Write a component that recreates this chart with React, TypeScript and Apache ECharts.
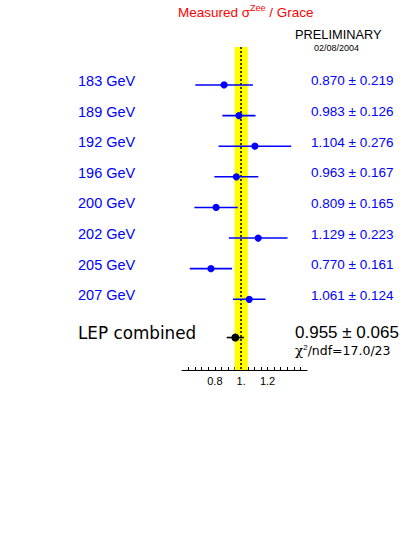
import React, { useEffect, useRef } from "react";
import * as echarts from "echarts";

const energies = ["183 GeV", "189 GeV", "192 GeV", "196 GeV", "200 GeV", "202 GeV", "205 GeV", "207 GeV"];
const ratios = [0.870, 0.983, 1.104, 0.963, 0.809, 1.129, 0.770, 1.061];
const errors = [0.219, 0.126, 0.276, 0.167, 0.165, 0.223, 0.161, 0.124];
const combinedLabel = "LEP combined";
const combinedValue = 0.955;
const combinedError = 0.065;
const chi2Value = "17.0/23";
const bandRange = [0.95, 1.05];
const refValue = 1.0;
const tickLabelValues = [0.8, 1.0, 1.2];
const tickLabelTexts = ["0.8", "1.", "1.2"];

const COMBINED_ROW = energies.length + 0.25;
const SANS = "'Liberation Sans', Arial, Helvetica, sans-serif";

export default function App() {
  const ref = useRef<HTMLDivElement>(null);

  useEffect(() => {
    if (!ref.current) return;
    const chart = echarts.init(ref.current, null, { renderer: "svg" });

    const rows = energies.map((_, i) => [ratios[i], errors[i], i]);
    rows.push([combinedValue, combinedError, COMBINED_ROW]);

    const fmt = (v: number, e: number) => `${v.toFixed(3)} ± ${e.toFixed(3)}`;

    const option: any = {
      animation: false,
      grid: { left: 182, right: 110, top: 47, bottom: 170 },
      xAxis: {
        type: "value",
        min: 0.55,
        max: 1.5,
        interval: 0.05,
        axisLine: { show: true, onZero: false, lineStyle: { color: "#000", width: 1 } },
        axisTick: { show: true, inside: true, length: 3, lineStyle: { color: "#000", width: 1 } },
        splitLine: { show: false },
        axisLabel: {
          show: true,
          margin: 5,
          fontSize: 11,
          fontFamily: SANS,
          color: "#000",
          showMinLabel: false,
          showMaxLabel: false,
          interval: 0,
          formatter: (v: number) => {
            for (let k = 0; k < tickLabelValues.length; k++) {
              if (Math.abs(v - tickLabelValues[k]) < 1e-6) return tickLabelTexts[k];
            }
            return "";
          },
        },
      },
      yAxis: {
        type: "value",
        inverse: true,
        min: -1.24,
        max: 9.31,
        show: false,
      },
      series: [
        {
          type: "line",
          data: [],
          z: 1,
          markArea: {
            silent: true,
            itemStyle: { color: "#ffff00" },
            data: [[{ xAxis: bandRange[0] }, { xAxis: bandRange[1] }]],
          },
          markLine: {
            silent: true,
            symbol: "none",
            label: { show: false },
            lineStyle: { color: "#000", width: 1.5, type: [2, 2] },
            data: [{ xAxis: refValue }],
          },
        },
        {
          type: "custom",
          z: 5,
          clip: false,
          data: rows,
          renderItem: (params: any, api: any) => {
            const idx = params.dataIndex;
            const isComb = idx === energies.length;
            const v = api.value(0);
            const e = api.value(1);
            const y = api.value(2);
            const p0 = api.coord([v - e, y]);
            const p1 = api.coord([v + e, y]);
            const c = api.coord([v, y]);
            const color = isComb ? "#000000" : "#0000ff";
            const leftText = isComb ? combinedLabel : energies[idx];
            const rightText = fmt(v, e);
            return {
              type: "group",
              children: [
                {
                  type: "line",
                  shape: { x1: p0[0], y1: p0[1], x2: p1[0], y2: p1[1] },
                  style: { stroke: color, lineWidth: 1.6 },
                },
                {
                  type: "circle",
                  shape: { cx: c[0], cy: c[1], r: isComb ? 4 : 3.6 },
                  style: { fill: color },
                },
                {
                  type: "text",
                  x: 78,
                  y: c[1] - (isComb ? 4.5 : 4),
                  style: {
                    text: leftText,
                    fill: color,
                    fontSize: isComb ? 16.8 : 14.5,
                    fontFamily: isComb ? "'DejaVu Sans', sans-serif" : SANS,
                    align: "left",
                    verticalAlign: "middle",
                  },
                },
                {
                  type: "text",
                  x: isComb ? 295 : 311,
                  y: c[1] - (isComb ? 5 : 4),
                  style: {
                    text: rightText,
                    fill: color,
                    fontSize: isComb ? 17 : 13.5,
                    fontFamily: SANS,
                    align: "left",
                    verticalAlign: "middle",
                  },
                },
              ],
            };
          },
        },
      ],
      graphic: [
        {
          type: "text",
          x: 178,
          y: 12,
          style: {
            text: "{a|Measured σ}{s|Zee}{a| / Grace}",
            align: "left",
            verticalAlign: "middle",
            rich: {
              a: { fontSize: 13.5, fontFamily: SANS, fill: "#ff0000", lineHeight: 18 },
              s: { fontSize: 9, fontFamily: SANS, fill: "#ff0000", lineHeight: 10, verticalAlign: "top" },
            },
          },
        },
        {
          type: "text",
          x: 295,
          y: 34.5,
          style: {
            text: "PRELIMINARY",
            fill: "#000",
            fontSize: 12.8,
            fontFamily: SANS,
            align: "left",
            verticalAlign: "middle",
          },
        },
        {
          type: "text",
          x: 314,
          y: 48,
          style: {
            text: "02/08/2004",
            fill: "#000",
            fontSize: 9,
            fontFamily: SANS,
            align: "left",
            verticalAlign: "middle",
          },
        },
        {
          type: "text",
          x: 295,
          y: 350,
          style: {
            text: "{c|χ}{s|2}{t|/ndf=" + chi2Value + "}",
            align: "left",
            verticalAlign: "middle",
            rich: {
              c: { fontSize: 13.5, fontFamily: "'DejaVu Serif', serif", fill: "#000", lineHeight: 13 },
              s: { fontSize: 8, fontFamily: SANS, fill: "#000", lineHeight: 8, verticalAlign: "top" },
              t: { fontSize: 12.5, fontFamily: "'DejaVu Sans', sans-serif", fill: "#000", lineHeight: 13 },
            },
          },
        },
      ],
    };

    chart.setOption(option);
    return () => chart.dispose();
  }, []);

  return (
    <div
      ref={ref}
      style={{ position: "absolute", left: 0, top: 0, width: 417, height: 540, background: "#fff" }}
    />
  );
}
